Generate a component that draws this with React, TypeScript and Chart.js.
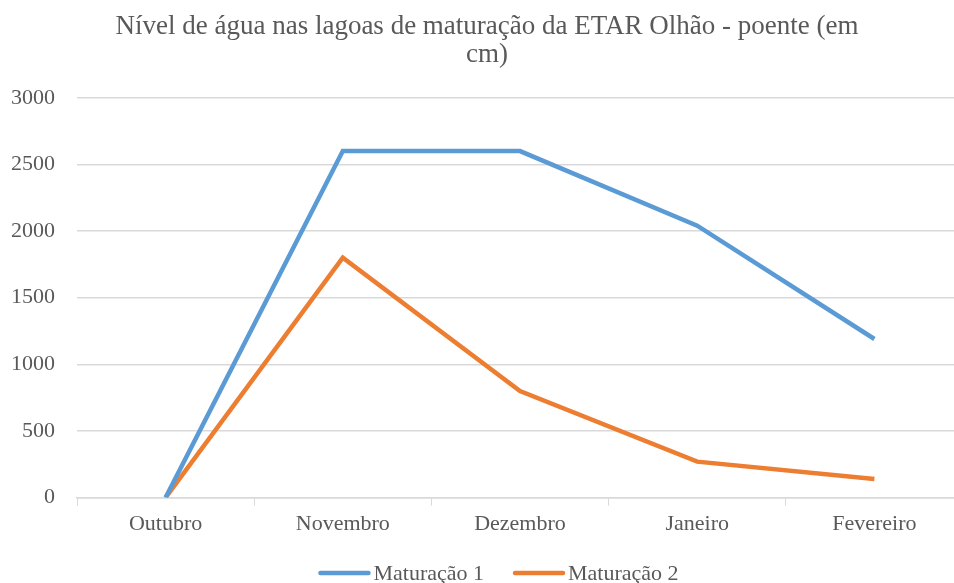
import React, { useEffect, useRef } from "react";
import { Chart, registerables } from "chart.js";

Chart.register(...registerables);

const titleLines = ["Nível de água nas lagoas de maturação da ETAR Olhão - poente (em", "cm)"];
const categories = ["Outubro", "Novembro", "Dezembro", "Janeiro", "Fevereiro"];
const maturacao1 = [0, 2600, 2600, 2040, 1190];
const maturacao2 = [0, 1800, 800, 270, 140];
const yTicks = [0, 500, 1000, 1500, 2000, 2500, 3000];

const FONT = "'Liberation Serif', 'Times New Roman', serif";
const TEXT = "#595959";

// Custom bottom legend: line sample directly followed by text (Excel style)
const bottomLegend = {
  id: "bottomLegend",
  afterDraw(chart: any) {
    const ctx = chart.ctx as CanvasRenderingContext2D;
    const sampleW = 52;
    const textGap = 3;
    const itemGap = 29;
    const y = 573;
    ctx.save();
    ctx.font = `22px ${FONT}`;
    const items = chart.data.datasets.map((ds: any) => ({
      label: ds.label as string,
      color: ds.borderColor as string,
      w: ctx.measureText(ds.label).width,
    }));
    const total =
      items.reduce((s: number, it: any) => s + sampleW + textGap + it.w, 0) + itemGap * (items.length - 1);
    let x = chart.width / 2 + 17 - total / 2;
    ctx.textBaseline = "middle";
    ctx.textAlign = "left";
    for (const it of items) {
      ctx.strokeStyle = it.color;
      ctx.lineWidth = 4.5;
      ctx.lineCap = "round";
      ctx.beginPath();
      ctx.moveTo(x + 2, y);
      ctx.lineTo(x + sampleW - 2, y);
      ctx.stroke();
      ctx.fillStyle = TEXT;
      ctx.fillText(it.label, x + sampleW + textGap, y + 1);
      x += sampleW + textGap + it.w + itemGap;
    }
    ctx.restore();
  },
};

export default function App() {
  const ref = useRef<HTMLCanvasElement>(null);
  useEffect(() => {
    if (!ref.current) return;
    const chart = new Chart(ref.current, {
      type: "line",
      data: {
        labels: categories,
        datasets: [
          {
            label: "Maturação 1",
            data: maturacao1,
            borderColor: "#5B9BD5",
            backgroundColor: "#5B9BD5",
            borderWidth: 4.5,
            pointRadius: 0,
            tension: 0,
          },
          {
            label: "Maturação 2",
            data: maturacao2,
            borderColor: "#ED7D31",
            backgroundColor: "#ED7D31",
            borderWidth: 4.5,
            pointRadius: 0,
            tension: 0,
          },
        ],
      },
      options: {
        animation: false,
        responsive: false,
        maintainAspectRatio: false,
        layout: { padding: { left: 11, right: 0, top: 0, bottom: 41 } },
        plugins: {
          title: {
            display: true,
            text: titleLines,
            color: TEXT,
            font: { family: FONT, size: 27, weight: "normal", lineHeight: 1.07 },
            padding: { top: 12, bottom: 28 },
          },
          legend: { display: false },
          tooltip: { enabled: false },
        },
        scales: {
          x: {
            type: "category",
            offset: true,
            grid: {
              display: true,
              drawOnChartArea: false,
              drawTicks: true,
              tickLength: 8,
              color: "#d9d9d9",
              offset: true,
            },
            border: { display: true, color: "#d9d9d9", width: 1.5 },
            ticks: {
              color: TEXT,
              font: { family: FONT, size: 22 },
              padding: 5,
              maxRotation: 0,
              autoSkip: false,
            },
          },
          y: {
            min: 0,
            max: 3000,
            afterBuildTicks: (axis: any) => {
              axis.ticks = yTicks.map((v) => ({ value: v }));
            },
            afterFit: (axis: any) => {
              axis.width = 66;
            },
            grid: { color: "#d9d9d9", lineWidth: 1.5, drawTicks: false },
            border: { display: false },
            ticks: {
              color: TEXT,
              font: { family: FONT, size: 22 },
              padding: 22,
              callback: (v: any) => String(v),
            },
          },
        },
      },
      plugins: [bottomLegend],
    });
    return () => chart.destroy();
  }, []);
  return (
    <div style={{ position: "absolute", left: 0, top: 0, width: 954, height: 583, overflow: "hidden", background: "#fff" }}>
      <canvas ref={ref} width={963} height={583} style={{ display: "block" }} />
    </div>
  );
}
